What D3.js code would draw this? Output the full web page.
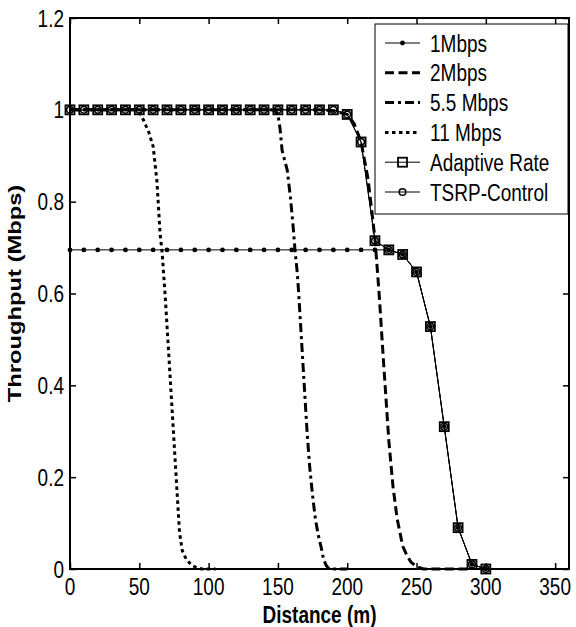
<!DOCTYPE html>
<html>
<head>
<meta charset="utf-8">
<script src="https://cdn.jsdelivr.net/npm/d3@7"></script>
<style>
  html, body { margin: 0; padding: 0; background: #fff; }
  svg { display: block; }
  text { font-family: "Liberation Sans", Arial, Helvetica, sans-serif; fill: #000; }
</style>
</head>
<body>
<svg id="chart" width="576" height="627"></svg>
<script>
// Throughput versus distance for fixed and adaptive 802.11b rates

// Distances (m) sampled every 10 m for the marked curves
const distStep10 = [0,10,20,30,40,50,60,70,80,90,100,110,120,130,140,150,160,170,180,190,
                    200,210,220,230,240,250,260,270,280,290,300];

// 1 Mbps
const rate1Mbps = [0.695,0.695,0.695,0.695,0.695,0.695,0.695,0.695,0.695,0.695,0.695,
                   0.695,0.695,0.695,0.695,0.695,0.695,0.695,0.695,0.695,0.695,0.695,
                   0.695,0.695,0.685,0.647,0.528,0.31,0.09,0.01,0];

// Adaptive rate selection
const adaptiveRate = [1,1,1,1,1,1,1,1,1,1,1,1,1,1,1,1,1,1,1,1,
                      0.99,0.93,0.715,0.695,0.685,0.647,0.528,0.31,0.09,0.01,0];

// TSRP-Control
const tsrpControl = [1,1,1,1,1,1,1,1,1,1,1,1,1,1,1,1,1,1,1,1,
                     0.99,0.93,0.715,0.695,0.685,0.647,0.528,0.31,0.09,0.01,0];

// 2 Mbps
const dist2Mbps = [0,180,190,200,205,210,215,220,223,226,230,233,236,240,243,246,250,255,290];
const rate2Mbps = [1,1,0.998,0.99,0.97,0.93,0.85,0.72,0.6,0.46,0.28,0.18,0.11,0.05,0.03,0.015,0.005,0,0];

// 5.5 Mbps
const dist5Mbps = [0,145,148,150,151.5,153,156.7,159,161,162.3,164,165,167,169,171,173,175,177,179,181,183,185,187,200];
const rate5Mbps = [1,1,0.998,0.99,0.96,0.912,0.869,0.81,0.745,0.695,0.644,0.6,0.5,0.4,0.3,0.22,0.16,0.11,0.075,0.05,0.02,0.007,0,0];

// 11 Mbps
const dist11Mbps = [0,48,50,53,57,60,62.7,65,66.5,68.7,71,73,75,77,79,81,84,88,92,95,105];
const rate11Mbps = [1,1,0.995,0.978,0.95,0.92,0.845,0.73,0.688,0.593,0.48,0.38,0.28,0.18,0.08,0.04,0.02,0.008,0.002,0,0];

// Axis ticks
const xTicks = [0,50,100,150,200,250,300,350];
const yTicks = [0,0.2,0.4,0.6,0.8,1,1.2];
const xTickLabels = ["0","50","100","150","200","250","300","350"];
const yTickLabels = ["0","0.2","0.4","0.6","0.8","1","1.2"];

const legendLabels = ["1Mbps","2Mbps","5.5 Mbps","11 Mbps","Adaptive Rate","TSRP-Control"];

const svg = d3.select("#chart");
const L = 70, R = 569, T = 18, B = 569;
const x = d3.scaleLinear().domain([0, 360]).range([L, R]);
const y = d3.scaleLinear().domain([0, 1.2]).range([B, T]);

const FS = 19, SY = 1.25;

const line = d3.line().x(d => x(d[0])).y(d => y(d[1]));
const zip = (a, b) => a.map((v, i) => [v, b[i]]);

// Series styles
const styles = {
  r11:  { width: 3, dash: "3.5,3.5" },
  r55:  { width: 3, dash: "9,4,3,4" },
  r2:   { width: 3, dash: "9,4.5" },
  r1:   { width: 1, dash: null },
  ad:   { width: 1, dash: null },
  ts:   { width: 1, dash: null }
};

const plot = svg.append("g");

function drawLine(data, st) {
  plot.append("path")
    .datum(data)
    .attr("d", line)
    .attr("fill", "none")
    .attr("stroke", "#000")
    .attr("stroke-width", st.width)
    .attr("stroke-dasharray", st.dash)
    .attr("stroke-linejoin", "round");
}

drawLine(zip(dist11Mbps, rate11Mbps), styles.r11);
drawLine(zip(dist5Mbps, rate5Mbps), styles.r55);
drawLine(zip(dist2Mbps, rate2Mbps), styles.r2);
drawLine(zip(distStep10, rate1Mbps), styles.r1);
drawLine(zip(distStep10, adaptiveRate), styles.ad);
drawLine(zip(distStep10, tsrpControl), styles.ts);

// Markers
function dotMarker(g, cx, cy) {
  g.append("circle").attr("cx", cx).attr("cy", cy).attr("r", 2.4).attr("fill", "#000");
}
function squareMarker(g, cx, cy) {
  g.append("rect").attr("x", cx - 4.5).attr("y", cy - 4.5).attr("width", 9).attr("height", 9)
    .attr("fill", "none").attr("stroke", "#000").attr("stroke-width", 1.8);
}
function circleMarker(g, cx, cy) {
  g.append("circle").attr("cx", cx).attr("cy", cy).attr("r", 3.3)
    .attr("fill", "none").attr("stroke", "#000").attr("stroke-width", 1.5);
}

zip(distStep10, rate1Mbps).forEach(d => dotMarker(plot, x(d[0]), y(d[1])));
zip(distStep10, adaptiveRate).forEach(d => squareMarker(plot, x(d[0]), y(d[1])));
zip(distStep10, tsrpControl).forEach(d => circleMarker(plot, x(d[0]), y(d[1])));

// Axes with inward ticks on all four sides
const tick = 6;
const axG = svg.append("g");
axG.append("g").attr("transform", `translate(0,${B})`)
  .call(d3.axisBottom(x).tickValues(xTicks).tickSize(-tick).tickFormat(""));
axG.append("g").attr("transform", `translate(0,${T})`)
  .call(d3.axisTop(x).tickValues(xTicks).tickSize(-tick).tickFormat(""));
axG.append("g").attr("transform", `translate(${L},0)`)
  .call(d3.axisLeft(y).tickValues(yTicks).tickSize(-tick).tickFormat(""));
axG.append("g").attr("transform", `translate(${R},0)`)
  .call(d3.axisRight(y).tickValues(yTicks).tickSize(-tick).tickFormat(""));
axG.selectAll("path.domain").remove();
axG.selectAll(".tick line").attr("stroke", "#000").attr("stroke-width", 1.5);
axG.append("rect").attr("x", L).attr("y", T).attr("width", R - L).attr("height", B - T)
  .attr("fill", "none").attr("stroke", "#000").attr("stroke-width", 2);

// Tick labels
svg.append("g").selectAll("text").data(xTicks).join("text")
  .attr("transform", d => `translate(${x(d)},595) scale(1,${SY})`)
  .attr("text-anchor", "middle")
  .attr("font-size", FS)
  .text((d, i) => xTickLabels[i]);

svg.append("g").selectAll("text").data(yTicks).join("text")
  .attr("transform", d => `translate(64,${y(d)}) scale(1,${SY})`)
  .attr("text-anchor", "end")
  .attr("dy", "0.36em")
  .attr("font-size", FS)
  .text((d, i) => yTickLabels[i]);

// Axis titles
svg.append("text")
  .attr("transform", `translate(${(L + R) / 2},622.5) scale(1,${SY})`)
  .attr("text-anchor", "middle")
  .attr("font-size", FS)
  .attr("font-weight", "bold")
  .text("Distance (m)");

svg.append("text")
  .attr("transform", `translate(21,${(T + B) / 2}) rotate(-90) scale(${SY},1)`)
  .attr("text-anchor", "middle")
  .attr("font-size", FS)
  .attr("font-weight", "bold")
  .text("Throughput (Mbps)");

// Legend
const lg = svg.append("g");
lg.append("rect").attr("x", 375).attr("y", 24).attr("width", 193).attr("height", 190)
  .attr("fill", "#fff").attr("stroke", "#000").attr("stroke-width", 1);

const legendStyles = [styles.r1, styles.r2, styles.r55, styles.r11, styles.ad, styles.ts];
const legendMarkers = [dotMarker, null, null, null, squareMarker, circleMarker];

legendLabels.forEach((lab, i) => {
  const cy = 43 + i * 29.8;
  lg.append("line").attr("x1", 385).attr("x2", 420).attr("y1", cy).attr("y2", cy)
    .attr("stroke", "#000")
    .attr("stroke-width", legendStyles[i].width)
    .attr("stroke-dasharray", legendStyles[i].dash);
  if (legendMarkers[i]) legendMarkers[i](lg, 402.5, cy);
  lg.append("text")
    .attr("transform", `translate(430,${cy}) scale(1,${SY})`)
    .attr("dy", "0.36em")
    .attr("font-size", FS)
    .text(lab);
});
</script>
</body>
</html>
